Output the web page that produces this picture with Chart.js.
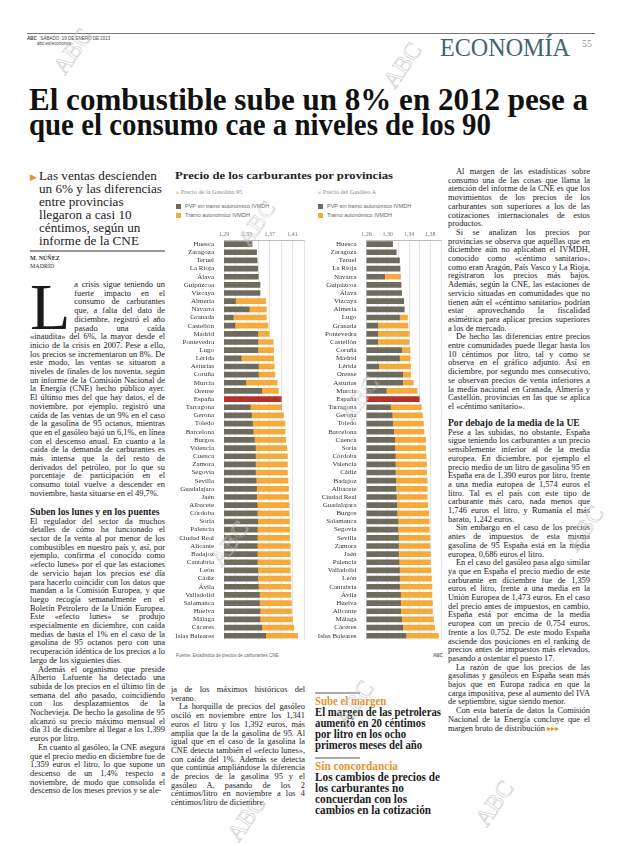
<!DOCTYPE html>
<html lang="es">
<head>
<meta charset="UTF-8">
<title>El combustible sube un 8% en 2012</title>
<script src="https://cdn.jsdelivr.net/npm/chart.js"></script>
<style>
  body {
    margin: 0;
    width: 620px;
    height: 846px;
    overflow: hidden;
    position: relative;
    background: #fff;
    font-family: "Liberation Serif", serif;
    color: #1a1a1a;
  }
  .abs { position: absolute; }
  .fit { display: block; width: max-content; white-space: nowrap; transform-origin: 0 0; }
  .txt {
    font-size: 8.4px;
    line-height: 8.7px;
    text-align: justify;
    hyphens: auto;
  }
  .txt p { margin: 0; text-indent: 8px; }
  .txt p.first { text-indent: 0; }
  .sub { font-weight: bold; font-size: 9.6px; line-height: 11px; margin: 2px 0 1px 0; color: #222; }
  .drop {
    float: left;
    font-size: 66px;
    line-height: 50px;
    height: 50px;
    margin: 1px 4px 0 0;
    font-family: "Liberation Serif", serif;
  }
  .side-kick { color: #e8922c; font-weight: bold; font-size: 11.5px; line-height: 11px; }
  .side-head { font-weight: bold; font-size: 11.5px; line-height: 11px; color: #1c1c1c; }
  .rule { position: absolute; height: 1px; background: #888; }
  .leg { font-size: 5.5px; color: #666; font-family: "Liberation Sans", sans-serif; }
  .leg i { display: inline-block; width: 5px; height: 5px; margin-right: 4px; vertical-align: -1px; }
  .wm {
    position: absolute;
    font-size: 24px;
    color: transparent;
    -webkit-text-stroke: 0.5px #c4c4c4;
    transform: rotate(-55deg);
    font-family: "Liberation Serif", serif;
  }
</style>
</head>
<body>

<!-- cabecera -->
<div class="rule" style="left:27px; top:33px; width:568px; background:#777;"></div>
<div class="abs" style="left:27px; top:36px; font-size:4.5px; line-height:5px; color:#444; font-family:'Liberation Sans',sans-serif;">
  <b>ABC</b>&nbsp;&nbsp; SÁBADO, 19 DE ENERO DE 2013<br>&nbsp;&nbsp;&nbsp;&nbsp;&nbsp;&nbsp;&nbsp;&nbsp;abc.es/economia
</div>
<div class="abs" style="left:440px; top:35px;"><div class="fit" data-w="130" style="font-size:25px; line-height:25px; color:#3f6470;">ECONOMÍA</div></div>
<div class="abs" style="left:582px; top:38px; font-size:10px; color:#999;">55</div>

<!-- titular -->
<div class="abs" style="left:29px; top:87px; font-size:31px; line-height:25px; font-weight:bold; color:#111;">
  <div class="fit" data-w="559">El combustible sube un 8% en 2012 pese a</div>
  <div class="fit" data-w="462">que el consumo cae a niveles de los 90</div>
</div>

<!-- entradilla -->
<div class="abs" style="left:30px; top:172px; color:#e8922c; font-size:9px;">&#9654;</div>
<div class="abs" style="left:39px; top:169px;">
  <div class="fit" data-w="123" style="font-size:13.5px; line-height:13px; color:#222;">Las ventas descienden<br>un 6% y las diferencias<br>entre provincias<br>llegaron a casi 10<br>céntimos, según un<br>informe de la CNE</div>
</div>
<div class="rule" style="left:30px; top:250px; width:135px; height:1.5px; background:#999;"></div>
<div class="abs" style="left:30px; top:254px; font-size:6px; line-height:8px; font-weight:bold; color:#333;">M. NÚÑEZ<br><span style="font-weight:normal;">MADRID</span></div>

<!-- columna 1 -->
<div class="abs txt" style="left:30px; top:281px; width:135px;">
  <p class="first"><span class="drop">L</span>a crisis sigue teniendo un fuerte impacto en el consumo de carburantes que, a falta del dato de diciembre, registró el año pasado una caída «inaudita» del 6%, la mayor desde el inicio de la crisis en 2007. Pese a ello, los precios se incrementaron un 8%. De este modo, las ventas se situaron a niveles de finales de los noventa, según un informe de la Comisión Nacional de la Energía (CNE) hecho público ayer. El último mes del que hay datos, el de noviembre, por ejemplo, registró una caída de las ventas de un 9% en el caso de la gasolina de 95 octanos, mientras que en el gasóleo bajó un 6,1%, en línea con el descenso anual. En cuanto a la caída de la demanda de carburantes es más intensa que la del resto de derivados del petróleo, por lo que su porcentaje de participación en el consumo total vuelve a descender en noviembre, hasta situarse en el 49,7%.</p>
  <div class="sub" style="margin-top:7px;">Suben los lunes y en los puentes</div>
  <p class="first">El regulador del sector da muchos detalles de cómo ha funcionado el sector de la venta al por menor de los combustibles en nuestro país y, así, por ejemplo, confirma el conocido como «efecto lunes» por el que las estaciones de servicio bajan los precios ese día para hacerlo coincidir con los datos que mandan a la Comisión Europea, y que luego recogía semanalmente en el Boletín Petrolero de la Unión Europea. Este «efecto lunes» se produjo especialmente en diciembre, con caída medias de hasta el 1% en el caso de la gasolina de 95 octanos pero con una recuperación idéntica de los precios a lo largo de los siguientes días.</p>
  <p>Además el organismo que preside Alberto Lafuente ha detectado una subida de los precios en el último fin de semana del año pasado, coincidiendo con los desplazamientos de la Nochevieja. De hecho la gasolina de 95 alcanzó su precio máximo mensual el día 31 de diciembre al llegar a los 1,399 euros por litro.</p>
  <p>En cuanto al gasóleo, la CNE asegura que el precio medio en diciembre fue de 1,359 euros el litro, lo que supone un descenso de un 1,4% respecto a noviembre, de modo que consolida el descenso de los meses previos y se ale-</p>
</div>

<!-- gráfico -->
<div class="abs" style="left:175px; top:170px;"><div class="fit" data-w="218" style="font-size:10.5px; font-weight:bold; color:#222;">Precio de los carburantes por provincias</div></div>

<div class="abs" style="left:176px; top:188px; font-size:6.3px; color:#888;"><span style="color:#e8922c;">»</span> Precio de la Gasolina 95</div>
<div class="abs leg" style="left:176px; top:203px;"><i style="background:#6e6b5c;"></i>PVP sin tramo autonómico IVMDH</div>
<div class="abs leg" style="left:176px; top:212px;"><i style="background:#f5aa3c;"></i>Tramo autonómico IVMDH</div>

<div class="abs" style="left:318px; top:188px; font-size:6.3px; color:#888;"><span style="color:#e8922c;">»</span> Precio del Gasóleo A</div>
<div class="abs leg" style="left:318px; top:203px;"><i style="background:#6e6b5c;"></i>PVP sin tramo autonómico IVMDH</div>
<div class="abs leg" style="left:318px; top:212px;"><i style="background:#f5aa3c;"></i>Tramo autonómico IVMDH</div>

<div class="abs" style="left:170px; top:226px; width:136px; height:420px;"><canvas id="gasChart"></canvas></div>
<div class="abs" style="left:313px; top:226px; width:130px; height:420px;"><canvas id="dieselChart"></canvas></div>

<div class="abs" style="left:176px; top:653px; font-size:4.5px; color:#666; font-family:'Liberation Sans',sans-serif;">Fuente: Estadística de precios de carburantes CNE</div>
<div class="abs" style="left:433px; top:653px; font-size:4.5px; color:#666; font-weight:bold; font-family:'Liberation Sans',sans-serif;">ABC</div>

<!-- columna 2 bajo el gráfico -->
<div class="abs txt" style="left:171px; top:686px; width:134px;">
  <p class="first">ja de los máximos históricos del verano.</p>
  <p>La horquilla de precios del gasóleo osciló en noviembre entre los 1,341 euros el litro y los 1,392 euros, más amplia que la de la gasolina de 95. Al igual que en el caso de la gasolina la CNE detecta también el «efecto lunes», con caída del 1%. Además se detecta que continúa ampliándose la diferencia de precios de la gasolina 95 y el gasóleo A, pasando de los 2 céntimos/litro en noviembre a los 4 céntimos/litro de diciembre.</p>
</div>

<!-- columna 3: despieces -->
<div class="rule" style="left:315px; top:692px; width:45px; height:1.5px; background:#aaa;"></div>
<div class="abs" style="left:315px; top:696px;">
  <div class="fit" data-w="126">
    <div class="side-kick">Sube el margen</div>
    <div class="side-head">El margen de las petroleras<br>aumentó en 20 céntimos<br>por litro en los ocho<br>primeros meses del año</div>
  </div>
</div>
<div class="rule" style="left:315px; top:757px; width:45px; height:1.5px; background:#aaa;"></div>
<div class="abs" style="left:315px; top:761px;">
  <div class="fit" data-w="125">
    <div class="side-kick">Sin concordancia</div>
    <div class="side-head">Los cambios de precios de<br>los carburantes no<br>concuerdan con los<br>cambios en la cotización</div>
  </div>
</div>

<!-- columna 4 -->
<div class="abs txt" style="left:448px; top:168px; width:142px;">
  <p>Al margen de las estadísticas sobre consumo una de las cosas que llama la atención del informe de la CNE es que los movimientos de los precios de los carburantes son superiores a los de las cotizaciones internacionales de estos productos.</p>
  <p>Si se analizan los precios por provincias se observa que aquéllas que en diciembre aún no aplicaban el IVMDH, conocido como «céntimo sanitario», como eran Aragón, País Vasco y La Rioja, registraron los precios más bajos. Además, según la CNE, las estaciones de servicio situadas en comunidades que no tienen aún el «céntimo sanitario» podrían estar aprovechando la fiscalidad asimétrica para aplicar precios superiores a los de mercado.</p>
  <p>De hecho las diferencias entre precios entre comunidades puede llegar hasta los 10 céntimos por litro, tal y como se observa en el gráfico adjunto. Así en diciembre, por segundo mes consecutivo, se observan precios de venta inferiores a la media nacional en Granada, Almería y Castellón, provincias en las que se aplica el «céntimo sanitario».</p>
  <div class="sub" style="margin-top:5px;">Por debajo de la media de la UE</div>
  <p class="first">Pese a las subidas, no obstante, España sigue teniendo los carburantes a un precio sensiblemente inferior al de la media europea. En diciembre, por ejemplo el precio medio de un litro de gasolina 95 en España era de 1,390 euros por litro, frente a una media europea de 1,574 euros el litro. Tal es el país con este tipo de carburante más caro, nada menos que 1,746 euros el litro, y Rumanía el más barato, 1,242 euros.</p>
  <p>Sin embargo en el caso de los precios antes de impuestos de esta misma gasolina de 95 España está en la media europea, 0,686 euros el litro.</p>
  <p>En el caso del gasóleo pasa algo similar ya que en España el precio medio de este carburante en diciembre fue de 1,359 euros el litro, frente a una media en la Unión Europea de 1,473 euros. En el caso del precio antes de impuestos, en cambio, España está por encima de la media europea con un precio de 0,754 euros, frente a los 0,752. De este modo España asciende dos posiciones en el ranking de precios antes de impuestos más elevados, pasando a ostentar el puesto 17.</p>
  <p>La razón de que los precios de las gasolinas y gasóleos en España sean más bajos que en Europa radica en que la carga impositiva, pese al aumento del IVA de septiembre, sigue siendo menor.</p>
  <p>Con esta batería de datos la Comisión Nacional de la Energía concluye que el margen bruto de distribución <span style="color:#e8922c;">&#9656;&#9656;&#9656;</span></p>
</div>

<!-- marcas de agua -->
<div class="wm" style="left:48px; top:38px;">ABC</div>
<div class="wm" style="left:378px; top:52px;">ABC</div>
<div class="wm" style="left:232px; top:210px;">ABC</div>
<div class="wm" style="left:335px; top:385px;">ABC</div>
<div class="wm" style="left:205px; top:530px;">ABC</div>
<div class="wm" style="left:560px; top:515px;">ABC</div>
<div class="wm" style="left:330px; top:690px;">ABC</div>
<div class="wm" style="left:222px; top:805px;">ABC</div>
<div class="wm" style="left:470px; top:790px;">ABC</div>

<script>
  // Ajuste de anchura de titulares y entradillas
  document.querySelectorAll(".fit").forEach(el => {
    const w = el.getBoundingClientRect().width;
    el.style.transform = "scaleX(" + (Number(el.dataset.w) / w) + ")";
  });

  // Gasolina 95 (euros/litro), ordenado como en el gráfico
  const gasProvincias = ["Huesca", "Zaragoza", "Teruel", "La Rioja", "Álava", "Guipúzcoa", "Vizcaya", "Almería", "Navarra", "Granada", "Castellón", "Madrid", "Pontevedra", "Lugo", "Lérida", "Asturias", "Coruña", "Murcia", "Orense", "España", "Tarragona", "Gerona", "Toledo", "Barcelona", "Burgos", "Valencia", "Cuenca", "Zamora", "Segovia", "Sevilla", "Guadalajara", "Jaén", "Albacete", "Córdoba", "Soria", "Palencia", "Ciudad Real", "Alicante", "Badajoz", "Cantabria", "León", "Cádiz", "Ávila", "Valladolid", "Salamanca", "Huelva", "Málaga", "Cáceres", "Islas Baleares"];
  // PVP sin tramo autonómico
  const gasSinTramo = [1.339, 1.347, 1.348, 1.349, 1.350, 1.353, 1.353, 1.310, 1.334, 1.306, 1.309, 1.349, 1.349, 1.349, 1.320, 1.350, 1.350, 1.328, 1.356, null, 1.336, 1.338, 1.340, 1.341, 1.343, 1.345, 1.345, 1.345, 1.345, 1.346, 1.347, 1.347, 1.348, 1.348, 1.349, 1.348, 1.348, 1.348, 1.348, 1.348, 1.349, 1.349, 1.350, 1.352, 1.352, 1.353, 1.353, 1.356, 1.363];
  // PVP con tramo autonómico (null = sin tramo)
  const gasConTramo = [null, null, null, null, null, null, null, 1.363, 1.364, 1.364, 1.367, 1.369, 1.376, 1.377, 1.377, 1.378, 1.379, 1.383, 1.385, null, 1.391, 1.394, 1.397, 1.397, 1.398, 1.400, 1.401, 1.401, 1.401, 1.402, 1.403, 1.403, 1.404, 1.404, 1.405, 1.405, 1.405, 1.406, 1.406, 1.406, 1.406, 1.407, 1.407, 1.407, 1.408, 1.408, 1.410, 1.412, 1.419];
  const gasEspana = 1.390;
  const gasTicks = [1.29, 1.33, 1.37, 1.41];

  // Gasóleo A (euros/litro)
  const dieselProvincias = ["Huesca", "Zaragoza", "Teruel", "La Rioja", "Navarra", "Guipúzcoa", "Álava", "Vizcaya", "Almería", "Lugo", "Granada", "Pontevedra", "Castellón", "Coruña", "Madrid", "Lérida", "Orense", "Asturias", "Murcia", "España", "Tarragona", "Gerona", "Toledo", "Barcelona", "Cuenca", "Soria", "Córdoba", "Valencia", "Cádiz", "Badajoz", "Albacete", "Ciudad Real", "Guadalajara", "Burgos", "Salamanca", "Segovia", "Sevilla", "Zamora", "Jaén", "Palencia", "Valladolid", "León", "Cantabria", "Ávila", "Huelva", "Alicante", "Málaga", "Cáceres", "Islas Baleares"];
  const dieselSinTramo = [1.309, 1.316, 1.322, 1.323, 1.294, 1.325, 1.326, 1.330, 1.331, 1.322, 1.281, 1.281, 1.281, 1.326, 1.322, 1.283, 1.328, 1.328, 1.297, null, 1.305, 1.308, 1.309, 1.311, 1.313, 1.313, 1.314, 1.314, 1.314, 1.315, 1.315, 1.316, 1.317, 1.317, 1.319, 1.319, 1.320, 1.320, 1.320, 1.321, 1.322, 1.322, 1.322, 1.324, 1.324, 1.324, 1.326, 1.328, 1.334];
  const dieselConTramo = [null, null, null, null, 1.324, null, null, null, null, 1.337, 1.338, 1.340, 1.340, 1.342, 1.342, 1.343, 1.343, 1.348, 1.355, null, 1.363, 1.365, 1.367, 1.368, 1.371, 1.371, 1.372, 1.373, 1.373, 1.374, 1.374, 1.374, 1.375, 1.377, 1.378, 1.378, 1.379, 1.379, 1.380, 1.380, 1.381, 1.382, 1.383, 1.383, 1.384, 1.384, 1.386, 1.388, 1.395];
  const dieselEspana = 1.359;
  const dieselTicks = [1.26, 1.30, 1.34, 1.38];

  const colOscuro = "#6e6b5c";
  const colNaranja = "#f5aa3c";
  const colRojo = "#b5312c";

  function drawProvChart(id, provincias, sinTramo, conTramo, espana, ticks, min, max, yWidth) {
    const tramo = conTramo.map((v, i) => v === null ? null : [sinTramo[i], v]);
    const media = provincias.map(p => p === "España" ? espana : null);

    return new Chart(document.getElementById(id), {
      type: "bar",
      data: {
        labels: provincias,
        datasets: [
          { data: sinTramo, backgroundColor: colOscuro },
          { data: tramo, backgroundColor: colNaranja },
          { data: media, backgroundColor: colRojo }
        ]
      },
      options: {
        indexAxis: "y",
        responsive: true,
        maintainAspectRatio: false,
        animation: false,
        layout: { padding: 0 },
        datasets: { bar: { grouped: false, barThickness: 5, borderSkipped: false } },
        plugins: { legend: { display: false }, tooltip: { enabled: false } },
        scales: {
          x: {
            position: "top",
            min: min,
            max: max,
            afterFit: (s) => { s.height = 14; },
            afterBuildTicks: (s) => {
              const t = [];
              for (let v = min; v <= max + 1e-9; v += 0.02) t.push({ value: Math.round(v * 100) / 100 });
              s.ticks = t;
            },
            ticks: {
              font: { size: 6, family: "Liberation Serif" },
              color: "#777",
              padding: 2,
              maxRotation: 0,
              autoSkip: false,
              callback: (v) => ticks.some(t => Math.abs(t - v) < 1e-6) ? v.toFixed(2).replace(".", ",") : ""
            },
            grid: { color: "#d9d9d9", lineWidth: 0.7, drawTicks: false },
            border: { display: true, color: "#bbb" }
          },
          y: {
            afterFit: (s) => { s.width = yWidth; },
            ticks: {
              font: { size: 7, family: "Liberation Serif" },
              color: "#333",
              padding: 2,
              autoSkip: false
            },
            grid: { display: false },
            border: { display: false }
          }
        }
      }
    });
  }

  drawProvChart("gasChart", gasProvincias, gasSinTramo, gasConTramo, gasEspana, gasTicks, 1.29, 1.43, 54);
  drawProvChart("dieselChart", dieselProvincias, dieselSinTramo, dieselConTramo, dieselEspana, dieselTicks, 1.26, 1.40, 53.5);
</script>
</body>
</html>
